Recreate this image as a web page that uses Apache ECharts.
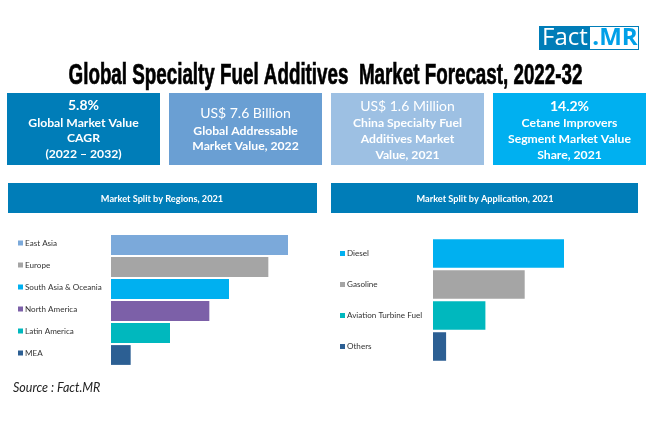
<!DOCTYPE html>
<html>
<head>
<meta charset="utf-8">
<style>
html, body { margin: 0; padding: 0; background: #fff; }
#main { width: 650px; height: 443px; }
</style>
<script src="https://cdn.jsdelivr.net/npm/echarts@6/dist/echarts.min.js"></script>
</head>
<body>
<div id="main"></div>
<script>
var regionNames = ['East Asia', 'Europe', 'South Asia & Oceania', 'North America', 'Latin America', 'MEA'];
var regionValues = [45, 40, 30, 25, 15, 5];
var regionColors = ['#7BA9DA', '#A5A5A5', '#00B0F0', '#7C60A8', '#00B8BE', '#2C5F93'];

var appNames = ['Diesel', 'Gasoline', 'Aviation Turbine Fuel', 'Others'];
var appValues = [50, 35, 20, 5];
var appColors = ['#00B0F0', '#A5A5A5', '#00B8BE', '#2C5F93'];

var titleText = 'Global Specialty Fuel Additives  Market Forecast, 2022-32';
var sourceText = 'Source : Fact.MR';
var regionHeader = 'Market Split by Regions, 2021';
var appHeader = 'Market Split by Application, 2021';
var cardHeads = ['5.8%', 'US$ 7.6 Billion', 'US$ 1.6 Million', '14.2%'];
var cardBodies = [
    'Global Market Value\nCAGR\n(2022 – 2032)',
    'Global Addressable\nMarket Value, 2022',
    'China Specialty Fuel\nAdditives Market\nValue, 2021',
    'Cetane Improvers\nSegment Market Value\nShare, 2021'
];
var cardColors = ['#007DB8', '#6A9FD3', '#9DC0E3', '#00B0F0'];

var chart = echarts.init(document.getElementById('main'), null, { renderer: 'canvas' });
var font = 'Lato';
var graphics = [];

function addRect(x, y, w, h, fill) {
    graphics.push({ type: 'rect', shape: { x: x, y: y, width: w, height: h }, style: { fill: fill }, silent: true });
}
function addText(x, y, text, style) {
    var s = { x: x, y: y, text: text, fontFamily: font, align: 'center', verticalAlign: 'middle', fill: '#fff' };
    for (var k in style) { s[k] = style[k]; }
    graphics.push({ type: 'text', style: s, silent: true });
}

// logo
addRect(539, 26, 100, 24, '#007DB8');
addRect(590, 27, 48, 22, '#fff');
addText(565, 38.5, 'Fact', { fontSize: 24, fontFamily: 'Open Sans' });
addText(615, 38.5, '.MR', { fontSize: 24, fontWeight: 'bold', fill: '#00A0E8', fontFamily: 'Open Sans' });

// main title, squeezed since no condensed face is installed
graphics.push({
    type: 'text', x: 325.5, y: 76, scaleX: 0.648, silent: true,
    style: { x: 0, y: 0, text: titleText, fontFamily: 'Liberation Sans', fontWeight: 'bold', fontSize: 29,
        fill: '#000', stroke: '#000', lineWidth: 0.7, align: 'center', verticalAlign: 'middle' }
});

// stat cards
var cardX = [7, 169, 331, 493];
var headY = [105.5, 113.5, 106, 106];
var bodyY = [138.5, 138.5, 139, 139];
for (var i = 0; i < cardHeads.length; i++) {
    addRect(cardX[i], 93, 153, 72, cardColors[i]);
    addText(cardX[i] + 76.5, headY[i], cardHeads[i], { fontSize: 14, fontWeight: i === 1 || i === 2 ? 'normal' : 'bold' });
    addText(cardX[i] + 76.5, bodyY[i], cardBodies[i], { fontSize: 12.2, fontWeight: 'bold', lineHeight: 15.7 });
}

// section headers
addRect(8, 183, 309, 30, '#007DB8');
addRect(331, 183, 307, 30, '#007DB8');
addText(162, 199, regionHeader, { fontSize: 9.2, fontWeight: 'bold' });
addText(485, 199, appHeader, { fontSize: 9.2, fontWeight: 'bold' });

addText(13, 387.5, sourceText, { fontSize: 12.5, fill: '#222', align: 'left', fontStyle: 'italic' });

function swatchRich(colors) {
    var rich = { t: { fontFamily: font, fontSize: 8.1, color: '#333', padding: [0, 0, 0, 2] } };
    colors.forEach(function(c, i) {
        rich['s' + i] = { width: 5, height: 5, backgroundColor: c };
    });
    return rich;
}
function labelFormatter(names) {
    return function(v) {
        return '{s' + names.indexOf(v) + '|}{t|' + v + '}';
    };
}
function coloredData(values, colors) {
    return values.map(function(v, i) {
        return { value: v, itemStyle: { color: colors[i] } };
    });
}

var option = {
    backgroundColor: '#fff',
    animation: false,
    graphic: graphics,
    grid: [
        { left: 111, top: 234, width: 177, height: 132 },
        { left: 433, top: 238, width: 131, height: 124 }
    ],
    xAxis: [
        { gridIndex: 0, type: 'value', min: 0, max: 45, show: false },
        { gridIndex: 1, type: 'value', min: 0, max: 50, show: false }
    ],
    yAxis: [
        {
            gridIndex: 0, type: 'category', inverse: true, data: regionNames,
            axisLine: { show: false }, axisTick: { show: false },
            axisLabel: { align: 'left', margin: 93, padding: [0, 0, 4, 0], formatter: labelFormatter(regionNames), rich: swatchRich(regionColors) }
        },
        {
            gridIndex: 1, type: 'category', inverse: true, data: appNames,
            axisLine: { show: false }, axisTick: { show: false },
            axisLabel: { align: 'left', margin: 93, formatter: labelFormatter(appNames), rich: swatchRich(appColors) }
        }
    ],
    series: [
        { type: 'bar', xAxisIndex: 0, yAxisIndex: 0, data: coloredData(regionValues, regionColors), barCategoryGap: '10%', silent: true },
        { type: 'bar', xAxisIndex: 1, yAxisIndex: 1, data: coloredData(appValues, appColors), barCategoryGap: '8%', silent: true }
    ]
};
chart.setOption(option);
</script>
</body>
</html>
